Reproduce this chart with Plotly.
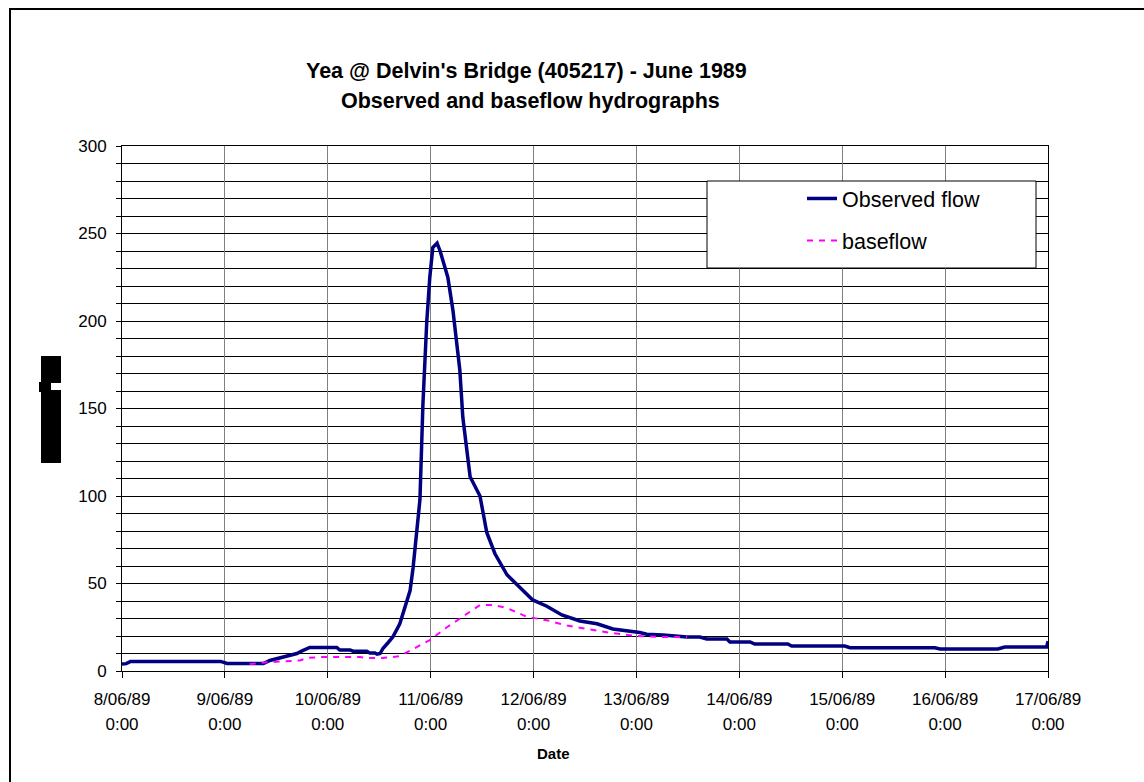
import plotly.graph_objects as go
import pandas as pd

# ---------------- data ----------------
start = "1989-06-08 00:00"
# Observed flow: hours after 8/06/89 0:00 and flow
obs_hours = [0, 1, 2, 23, 24.5, 33, 34.5, 37.5, 39.5, 40.8, 42, 43.8, 50.1, 50.8, 53.2, 53.9,
             57.1, 57.8, 59.0, 59.5, 60.2, 60.9, 62, 63.2, 64.8, 66.0, 67.2, 67.9, 68.8, 69.5,
             70.2, 71.1, 71.8, 72.5, 73.5, 74.2, 76.0, 77.2, 78.8, 79.5, 81.2, 83.5, 85.1, 87.0,
             89.8, 92.8, 95.8, 99.1, 102.6, 106.8, 110.8, 114.5, 118.5, 120.8, 122.4, 126.2,
             131.8, 134.8, 136.4, 141.1, 141.8, 146.5, 147.6, 155.3, 156.2, 168.6, 169.8, 189.6,
             190.8, 204.3, 205.9, 215.7, 216]
obs_flow = [4.0, 4.2, 5.5, 5.5, 4.3, 4.3, 6, 8, 9, 10, 11.5, 13.5, 13.5, 12, 12, 11.3,
            11.3, 10.3, 10.3, 9.6, 10, 13, 16, 19.5, 27, 37, 46, 59, 80, 98,
            153, 200, 225, 242, 244.5, 240, 225, 206, 172, 145, 111, 100, 79, 67,
            55, 48, 40.6, 37, 32, 28.6, 27, 24, 23, 22, 21, 20.6,
            19.5, 19.4, 18.3, 18.3, 16.6, 16.6, 15.4, 15.4, 14.3, 14.3, 13.3, 13.3,
            12.6, 12.6, 13.7, 13.7, 17]
# Baseflow
base_hours = [29.8, 33.8, 41.5, 43.1, 46.2, 55.5, 57.1, 60.9, 64.8, 67.9, 71.8, 75.8, 80.5,
              83.5, 86.5, 89.8, 94.4, 99.1, 103.8, 109.8, 114.5, 120.1, 126.2, 131.8]
base_flow = [4.0, 5, 6, 7.4, 8, 8, 7.4, 7.4, 8.5, 12.5, 17.7, 25, 33,
             37.7, 37.7, 36, 31, 29, 26, 23.4, 21.6, 20, 19.4, 19.4]

tick_dates = ["1989-06-08", "1989-06-09", "1989-06-10", "1989-06-11", "1989-06-12",
              "1989-06-13", "1989-06-14", "1989-06-15", "1989-06-16", "1989-06-17"]
date_labels = ["8/06/89", "9/06/89", "10/06/89", "11/06/89", "12/06/89",
               "13/06/89", "14/06/89", "15/06/89", "16/06/89", "17/06/89"]
time_labels = ["0:00"] * 10
y_ticks = [0, 50, 100, 150, 200, 250, 300]

title1 = "Yea @ Delvin's Bridge (405217) - June 1989"
title2 = "Observed and baseflow hydrographs"

t0 = pd.Timestamp(start)
obs_time = t0 + pd.to_timedelta(obs_hours, unit="h")
base_time = t0 + pd.to_timedelta(base_hours, unit="h")

# ---------------- layout helpers ----------------
W, H = 1144, 782
L, R, T, B = 122, 1048, 146, 671
FONT = "Arial, Liberation Sans, sans-serif"


def px(x):
    return (x - L) / (R - L)


def py(y):
    return (B - y) / (B - T)


fig = go.Figure()
fig.add_trace(go.Scatter(x=obs_time, y=obs_flow, mode="lines", name="Observed flow",
                         legendgroup="a",
                         line=dict(color="#000080", width=3.5)))
fig.add_trace(go.Scatter(x=base_time, y=base_flow, mode="lines", name="baseflow",
                         legendgroup="b",
                         line=dict(color="#FF00FF", width=2, dash="6px,6px")))
# empty carrier so the second (time-of-day) label row is drawn
fig.add_trace(go.Scatter(x=tick_dates, y=[None] * len(tick_dates), xaxis="x2", yaxis="y",
                         mode="lines", showlegend=False, hoverinfo="skip"))

shapes = [
    # outer chart border (top and left edges visible)
    dict(type="line", xref="paper", yref="paper", x0=px(9), x1=px(1150), y0=py(9), y1=py(9),
         line=dict(color="black", width=2)),
    dict(type="line", xref="paper", yref="paper", x0=px(10), x1=px(10), y0=py(8), y1=py(800),
         line=dict(color="black", width=2)),
    # legend box
    dict(type="rect", xref="paper", yref="paper", x0=px(707), x1=px(1036), y0=py(268), y1=py(181),
         fillcolor="white", line=dict(color="black", width=1), layer="above"),
    # garbled y-axis title block
    dict(type="rect", xref="paper", yref="paper", x0=px(41), x1=px(61), y0=py(463), y1=py(356),
         fillcolor="black", line=dict(width=0)),
    dict(type="rect", xref="paper", yref="paper", x0=px(39), x1=px(41.5), y0=py(392), y1=py(382),
         fillcolor="black", line=dict(width=0)),
    dict(type="rect", xref="paper", yref="paper", x0=px(51), x1=px(61.5), y0=py(390), y1=py(383),
         fillcolor="white", line=dict(width=0)),
]

annotations = [
    dict(text="<b>" + title1 + "</b>", xref="paper", yref="paper", x=px(526), y=py(71),
         showarrow=False, xanchor="center", yanchor="middle",
         font=dict(family=FONT, size=21.5, color="black")),
    dict(text="<b>" + title2 + "</b>", xref="paper", yref="paper", x=px(530), y=py(101),
         showarrow=False, xanchor="center", yanchor="middle",
         font=dict(family=FONT, size=21.5, color="black")),
    dict(text="<b>Date</b>", xref="paper", yref="paper", x=px(553), y=py(753),
         showarrow=False, xanchor="center", yanchor="middle",
         font=dict(family=FONT, size=15, color="black")),
]

fig.update_layout(
    width=W, height=H,
    margin=dict(l=L, r=W - R, t=T, b=H - B, autoexpand=False),
    paper_bgcolor="white", plot_bgcolor="white",
    font=dict(family=FONT, color="black"),
    showlegend=True,
    legend=dict(x=px(802), y=py(178), xanchor="left", yanchor="top",
                bgcolor="rgba(0,0,0,0)", borderwidth=0,
                font=dict(family=FONT, size=21.5, color="black"),
                tracegroupgap=11, traceorder="grouped"),
    shapes=shapes,
    annotations=annotations,
)

fig.update_xaxes(
    type="date",
    range=[tick_dates[0], tick_dates[-1]],
    tickmode="array", tickvals=tick_dates, ticktext=date_labels,
    ticks="outside", ticklen=6, tickcolor="black", tickwidth=1,
    tickfont=dict(family=FONT, size=17, color="black"),
    ticklabelstandoff=7,
    showgrid=True, gridcolor="#808080", gridwidth=1,
    showline=True, linecolor="black", linewidth=1, mirror=True,
    zeroline=False,
)
fig.update_layout(xaxis2=dict(
    overlaying="x", anchor="y", side="bottom", type="date",
    range=[tick_dates[0], tick_dates[-1]],
    tickmode="array", tickvals=tick_dates, ticktext=time_labels,
    ticks="", showgrid=False, showline=False, zeroline=False,
    tickfont=dict(family=FONT, size=17, color="black"),
    ticklabelstandoff=41,
))
fig.update_yaxes(
    range=[0, 300],
    tickmode="array", tickvals=y_ticks,
    ticks="outside", ticklen=5, tickcolor="black", tickwidth=1,
    tickfont=dict(family=FONT, size=17, color="black"),
    ticklabelstandoff=6,
    showgrid=True, gridcolor="black", gridwidth=1,
    minor=dict(dtick=10, ticks="outside", ticklen=5, tickcolor="black",
               showgrid=True, gridcolor="black", gridwidth=1),
    showline=True, linecolor="black", linewidth=1, mirror=True,
    zeroline=False,
)

fig.write_html("out.html")
